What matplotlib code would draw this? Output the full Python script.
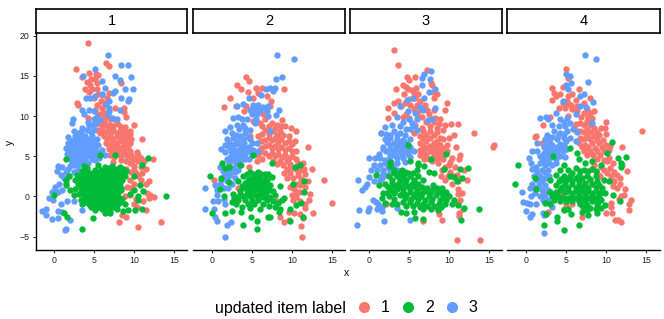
import matplotlib
matplotlib.use("Agg")
import matplotlib.pyplot as plt
from matplotlib.lines import Line2D

plt.rcParams['font.family'] = ['Liberation Sans', 'DejaVu Sans']

COLORS = ['#F8766D', '#00BA38', '#619CFF']
labels = ['1', '2', '3']

p1_red = [(4.2,19.1),(2.7,15.9),(6.5,16.6),(6.9,16.2),(3.5,14.8),(4.3,15.3),(5.2,15.2),(5.5,15.1),(5.1,14.6),(8.3,14.1),(4.1,14.2),(4.5,13.9),(3.8,13.3),(4.3,13.0),(5.3,13.3),(5.5,12.7),(6.8,12.9),(6.6,12.3),(2.8,11.6),(2.9,11.4),(5.3,11.4),(5.8,11.9),(5.1,10.8),(6,11),(7.6,11),(8.7,11),(8.7,10.5),(9,9.9),(4.2,9.8),(5.5,10.2),(6.4,10.4),(5.5,9.1),(6.2,9.4),(7,8.9),(7.8,9.1),(9.9,8.9),(5.3,8.3),(6,8.4),(6.7,8.3),(7.4,8.3),(8.2,8.1),(8.9,8.1),(9.4,8.2),(6.2,7.5),(7,7.6),(7.8,7.5),(8.5,7.4),(9.2,7.5),(11,7.1),(6.5,6.6),(7.2,6.7),(7.9,6.6),(8.7,6.6),(9.4,6.7),(6.8,5.9),(7.5,6),(8.2,5.9),(9,6),(7,5.2),(7.9,5.3),(8.9,5.3),(9.6,5.2),(10.3,5.5),(10.5,5.1),(12.4,4.6),(10.5,4.4),(11.2,4.4),(9.5,4.1),(11.4,3.4),(11,2.9),(10.5,2.5),(11.8,1.9),(11.4,1.6),(9.5,2.1),(9.1,1.2),(8.9,0),(9.5,0.2),(11.6,0.4),(12.5,-0.1),(11.8,-0.2),(11.1,-0.6),(9.9,-0.9),(11.5,-1.7),(10.3,-1.3),(8.5,-2.3),(9,-2.5),(8.1,-3.2),(10.4,-3.8),(13.3,-3.2),(12,0.2),(8.3,4.5),(7.4,4.3),(9,3.4),(10,3.3),
(5.9,8.8),(6.6,8.9),(7.4,8.8),(8.2,8.7),(8.8,8.6),(5.7,7.9),(6.4,8),(7.1,8),(7.9,7.9),(8.6,7.8),(9.4,7.8),(6.6,7.1),(7.4,7.1),(8.2,7),(8.9,7),(9.6,7.2),(6.9,6.3),(7.7,6.3),(8.5,6.2),(9.2,6.3),(7.2,5.6),(7.9,5.6),(8.6,5.6),(9.4,5.7),(7.5,4.9),(8.4,5),(9.2,4.9),(10,4.8),(9,4.4),(9.8,4.5),(10.8,4.8),(10,3.8),(10.8,3.6),(9.6,3),(10.2,2.9),(9.9,1.5),(10.8,2),(9.6,1),(10.2,-0.3),(5.9,11),(6.4,11.6),(5.8,10.3),(6.3,9.9),(5,12.2),(5.9,12.6),(4.7,13.4),(5.3,14.1),(4.6,14.6),(7,9.6),(7.5,9.6)]
p1_green = [(1.5,4.6),(5.7,5.2),(7.6,5.1),(11.7,4.8),(11,3.9),(14,0),(3.5,-4),(4.8,-2.7),(1.6,-2.6),(1.2,-2),(-0.1,0.2),(3.7,3.8),(5.5,3.9),(6.3,3.7),(7.2,3.8),(8.2,3.7),(3.5,3.2),(4.2,3.1),(5.8,3.3),(6.5,3.1),(7.2,3.2),(8,3),(9,3.2),(1.8,2.6),(2.8,2.7),(3.5,2.5),(4.4,2.6),(5.2,2.7),(5.9,2.5),(6.6,2.6),(7.3,2.7),(8,2.5),(8.8,2.6),(10,2.6),(1.5,2),(2.6,2.1),(3.6,1.9),(4.3,2),(5,2.1),(5.7,1.9),(6.4,2),(7,2.1),(7.7,1.9),(8.5,2),(1.4,1.4),(3,1.5),(3.8,1.3),(4.5,1.4),(5.2,1.5),(5.8,1.3),(6.5,1.4),(7.2,1.5),(8,1.3),(10.7,1.4),(2,0.8),(2.6,0.9),(3.6,0.7),(4.2,0.8),(4.9,0.9),(5.6,0.7),(6.2,0.8),(6.9,0.9),(7.6,0.7),(8.4,0.8),(10,0.8),(11.1,0.7),(2.5,0.2),(3.1,0.3),(3.8,0.1),(4.5,0.2),(5.2,0.3),(5.9,0.1),(6.6,0.2),(7.3,0.3),(8,0.1),(9.5,0.3),(10.4,0.1),(3.4,-0.4),(4.1,-0.3),(4.8,-0.5),(5.5,-0.4),(6.2,-0.3),(6.9,-0.5),(7.6,-0.4),(8.5,-0.3),(10.5,-0.4),(3.5,-1),(4.3,-0.9),(5,-1.1),(5.7,-1),(6.4,-0.9),(7.1,-1.1),(8,-1),(8.8,-0.9),(5.1,-1.7),(6,-1.6),(6.4,-1.8),(7,-1.7),(7.9,-1.6),(8.6,-1.8),(9.2,-1.7),(10.1,-1.7),(11,-1.5),(6.4,-2.1),(7,-2),
(4.1,3.5),(5.1,3.3),(6.9,3.5),(7.7,3.4),(8.6,3.4),(3.9,2.9),(4.8,2.9),(5.5,2.9),(6.2,2.9),(6.9,2.9),(7.6,2.9),(8.4,2.9),(3.1,2.3),(4,2.3),(4.7,2.4),(5.4,2.3),(6.1,2.3),(6.9,2.4),(7.6,2.3),(8.3,2.3),(3.3,1.7),(4.1,1.7),(4.8,1.8),(5.5,1.7),(6.2,1.7),(6.8,1.7),(7.5,1.7),(8.2,1.7),(3.3,1.1),(4.1,1.1),(4.8,1.1),(5.5,1.1),(6.2,1.1),(6.8,1.1),(7.6,1.1),(8.3,1.1),(3.3,.5),(3.9,.5),(4.6,.5),(5.2,.5),(5.9,.5),(6.6,.5),(7.2,.5),(8,.5),(3.7,-.1),(4.4,-.1),(5.1,-.1),(5.8,-.1),(6.5,-.1),(7.2,-.1),(8,-.1),(3.9,-.7),(4.6,-.7),(5.3,-.7),(6,-.7),(6.7,-.7),(7.4,-.7),(8.2,-.7),(4.6,-1.3),(5.4,-1.3),(6.1,-1.3),(6.8,-1.3),(7.6,-1.3)]
p1_blue = [(6.7,17.6),(8.3,16.4),(9.2,16.4),(5.1,15.9),(3.6,15),(7.6,15),(9.6,14.9),(8.2,14.5),(6,14.4),(8.8,13.4),(9.8,13.4),(6.4,13.5),(7.6,13.1),(7.4,12.9),(8.3,12.3),(9.3,12.1),(9.2,11.9),(4.5,12.3),(4,12.2),(5.1,12.5),(6,12.7),(6.8,11.9),(6.8,11),(6.7,10.2),(8.2,10.7),(3.5,10.7),(3.7,10.3),(4.3,10.8),(4.9,10.6),(2.3,9.6),(2.2,9.1),(7.9,9.6),(7.2,9.8),(4.9,9.6),(4.7,8.9),(5.3,9.9),(3.5,8.5),(2.4,8.1),(4.1,8.3),(4.9,8.3),(1.7,7.4),(2.6,7.5),(3.3,7.6),(3.9,7.5),(4.7,7.5),(5.3,7.1),(2.2,6.9),(2.8,6.6),(3.5,6.7),(4.1,6.7),(4.8,6.6),(5.5,6.4),(1.4,6),(2,6.1),(2.6,6),(3.3,6),(3.9,6),(4.5,6),(5.1,5.9),(6,5.8),(1.6,5.3),(2.2,5.4),(2.8,5.3),(3.5,5.3),(4.1,5.3),(4.7,5.3),(5.3,5.2),(6.4,5.1),(2,4.6),(2.6,4.6),(3.3,4.6),(3.9,4.6),(4.7,4.6),(5.1,4.5),(0.5,3.8),(1,3.7),(1.9,3.8),(0.3,3.2),(2.4,3.9),(3,3.9),(2.4,3.1),(0.8,2.7),(1.4,3.1),(1.2,2.3),(1.8,2.5),(0.1,1.2),(0,0.7),(0.5,0.6),(1,0.8),(-0.3,0.5),(-0.7,-0.2),(-0.2,-0.5),(1.6,-0.6),(0.8,-0.9),(2.5,-0.6),(-1,-1.5),(-1.5,-1.8),(-1.1,-2.3),(0.5,-1.8),(1,-1.9),(3.5,-1.7),(-0.3,-2.8),(0.5,-2.7),(2,-2.9),(1.3,-4.2),(1.5,-4.1),
(2.5,7),(3.1,7.1),(3.7,7.1),(4.4,7.1),(5,6.9),(1.7,6.6),(2.4,6.4),(3,6.4),(3.6,6.4),(4.2,6.4),(4.9,6.2),(1.7,5.7),(2.4,5.7),(3,5.7),(3.6,5.7),(4.2,5.7),(4.8,5.6),(5.5,5.5),(1.9,5),(2.5,5),(3.2,5),(3.8,5),(4.4,5),(5,4.9),(5.6,4.8),(2.2,4.3),(2.9,4.3),(3.5,4.3),(4.2,4.2),(4.6,8),(4.3,8.7),(5.1,9),(5.7,9.5),(4.2,9.2),(6.5,11.5),(6.9,10.6),(1.7,3.4),(2.9,3.3),(1.5,1.7),(.6,1.5),(3.4,8),(3,7.9)]

p2_red = [(4.3,14.9),(4.7,14.3),(3.2,13.9),(3.6,13.3),(4.5,13),(5.5,13.5),(6.3,13.5),(9,13.3),(2.3,12.3),(1.5,11.1),(3,11.3),(5.8,12.9),(5.2,12.3),(6.9,12.5),(7.4,11.9),(4,10.6),(4.3,11.3),(8.8,9.5),(9.2,8.7),(9.9,8.5),(10.5,8.1),(6.7,9.6),(7.5,9.1),(8.1,8.9),(5.2,9.4),(4.8,7.5),(5.8,7.5),(6.7,8.3),(7.7,8.1),(8.5,8.1),(6.2,6.9),(7.1,7.3),(7.9,7.3),(8.7,7.1),(9.6,6.9),(10.4,6.9),(12,6.1),(6.2,6),(7.1,6.4),(7.9,6.3),(8.7,6.2),(9.6,6),(10.5,5.7),(5.8,5.2),(6.7,5.4),(7.5,5.4),(8.3,5.3),(9.2,5.2),(10,5),(5.6,4.4),(4.6,3.7),(2.2,4.3),(0.3,2),(3.3,1),(7.7,4.4),(8.5,4.4),(9.4,4.4),(10.8,4.2),(11.4,4.2),(10.2,3.5),(11,3.3),(12.5,3.4),(9,2.9),(9.8,2.9),(10.8,2.7),(11.7,2.8),(14,2),(12,1.9),(10.6,1.6),(11.7,1.2),(9.8,1.2),(10.6,.6),(10,.2),(12.3,.3),(12.1,-.4),(11.7,-1),(11,-.6),(10.2,-.4),(8.2,-.6),(15,-.8),(12.7,-2),(11.7,-1.4),(10.3,-2.1),(11,-2.2),(9.6,-1.9),(11.4,-2.7),(8.5,-2.6),(9,-3.2),(9.6,-2.9),(11.1,-3.7),(11.3,-5),
(6.3,8.8),(7.1,8.7),(7.9,8.5),(8.6,8.7),(6.3,7.8),(7.2,7.8),(8.1,7.7),(8.9,7.7),(9.6,7.5),(6.7,7),(7.5,7),(8.3,6.8),(9.1,6.7),(10,6.5),(6.6,6.3),(7.5,6),(8.3,5.9),(9.1,5.8),(10,5.6),(6.2,5.6),(7.1,5),(7.9,5),(8.8,4.9),(9.6,4.8),(10.5,4.7),(6.3,4.7),(8.1,4),(8.9,3.9),(9.8,4),(9.4,3.4),(10.6,3.3),(11.5,3.4),(9.4,2.3),(10.2,2.3),(11.2,2.2),(10.2,1.5),(11,1.4),(10.3,.9),(11,.6),(10.5,-.1),(6,9.1),(6.4,10.2),(5.6,10.7),(6.8,10.9),(7.3,11.2)]
p2_green = [(5.2,5.1),(1.3,4.1),(2.2,3.7),(1.7,3.5),(-.2,2.5),(1.1,2.3),(1,.9),(2.2,1.8),(3.5,3.9),(7.5,4.1),(10.4,3.6),(11,3.9),(11.5,1.9),(11.5,.6),(10.1,1.5),(1.5,.1),(2.5,-.7),(3,-1),(2.5,-1.8),(1.7,-2.1),(0,-2.1),(3.7,-1.9),(3.9,-3.5),(4.9,-2.5),(5.7,-3.1),(5.7,-4.1),(7,-2.5),(7.3,-2.6),(9.8,-3.1),(11.4,-2.5),(9.8,-1.6),(10.5,-1.1),(11.2,-.8),(9,-.2),(8.5,1.3),(4.8,3),(5.8,3.1),(6.7,2.8),(3.9,2.5),(5,2.3),(5.8,2.4),(6.7,2.2),(7.5,2.4),(3.3,1.9),(4.2,1.7),(5,1.6),(5.8,1.6),(6.5,1.7),(7.3,1.4),(4.2,1),(4.9,.9),(5.6,1),(6.4,1),(7.1,.8),(2.7,.3),(3.5,.2),(4.4,.3),(5.2,.3),(6,.4),(6.7,.2),(7.9,.2),(3.3,-.4),(4.2,-.4),(5,-.4),(5.8,-.4),(6.9,-.4),(7.7,-.6),(3.8,-1.3),(4.8,-1.4),(6,-1.5),(7.1,-1.2),(7.9,-1.3),(8.5,-1.5),(8.4,-1.9),
(4.4,2.8),(5.3,2.8),(6.2,2.8),(7,2.8),(4.5,2.1),(5.4,2.1),(6.2,2.1),(6.9,2),(3.8,1.3),(4.6,1.4),(5.3,1.3),(6.1,1.3),(6.8,1.4),(3.5,.7),(4.5,.6),(5.3,.7),(6.1,.7),(6.8,.6),(7.6,.7),(3.2,-.1),(3.9,0),(4.8,0),(5.6,0),(6.4,-.1),(7.3,-.1),(4.5,-.9),(5.3,-.9),(6.4,-.9),(8.3,-.8),(2.8,-.2),(8.8,-.5)]
p2_blue = [(8.2,17.6),(10.3,17.1),(8.8,14.9),(8,14.6),(7.3,13.5),(7.7,13.1),(6.8,13.3),(7.9,13.5),(4.6,12.3),(6.2,12.6),(3.9,11.5),(3.2,11.2),(5.2,11.4),(5.8,11.4),(7,11.3),(8.4,10.8),(8,10.1),(4.8,10.8),(5.4,10.8),(6,10.8),(6.9,10.6),(5,10.2),(5.6,10.2),(2.7,9.8),(3.3,9.9),(3.8,9.6),(4.4,9.6),(7,10),(2.3,8.6),(1.7,8.1),(2.5,7.9),(3.1,8.9),(3.9,8.9),(7.3,8.2),(1.9,7.1),(2.7,7.3),(3.5,7.5),(4.2,7.9),(4.8,8.3),(5.4,9.1),(1.7,6.4),(2.5,6.4),(3.3,6.6),(4,6.6),(4.8,7.1),(5.6,6.6),(1.1,5.9),(2.1,6.1),(2.9,5.8),(3.5,5.9),(4.4,6),(5.2,5.8),(1.7,5.5),(2.5,5.2),(3.3,5.1),(4.2,5.3),(5,5.1),(5.8,5.6),(1.9,4.6),(2.7,4.5),(3.5,4.4),(4.2,4.6),(1,3.7),(1.8,3.1),(2.6,3.5),(3.3,3.3),(1.5,2.5),(2.3,2.7),(2.9,2.3),(1,1.6),(1.9,1.9),(2.5,1.6),(-.8,1.1),(.4,1.4),(.6,.8),(1.5,1),(.7,.2),(1.5,-.3),(.8,-.6),(.1,-.6),(1.7,-1),(-.9,-1.6),(.3,-1.6),(.4,-2.5),(.6,-3),(2.4,-3.2),(1.9,-3.6),(1.7,-5),
(5.5,10.5),(5.2,11),(6.4,11.1),(5.5,9.6),(4.2,8.5),(3,7.7),(3.4,8.4),(3.9,7.1),(3.1,6.9),(4.5,7.4),(2.1,6.7),(2.9,6.5),(3.6,6.1),(4,5.9),(4.7,6.2),(5,6.6),(2.4,5.6),(3,5.4),(3.7,5.4),(4.5,5.6),(5.3,5.4),(2.3,4.9),(3,4.8),(3.8,4.8),(4.6,4.7),(2.2,4),(3,4),(3.7,3.9),(1.4,3.2),(2.2,3.1),(2.9,3),(1.9,2.3),(1.2,2),(1.3,1.2),(2,1.1)]

p3_red = [(3.1,18.2),(3.6,16.3),(7.3,15.7),(4.8,14.9),(5,14.5),(5.8,14.8),(7.8,14.1),(7.9,13.8),(4.3,13.8),(4.7,13.6),(3.4,13.3),(5.4,13.2),(5.9,13.5),(4.4,12.8),(5.6,12.9),(6.2,12.7),(8,13),(8.5,12.7),(8.2,12.2),(9.8,11.6),(9.5,10.7),(3.7,11.9),(3.2,11.6),(2.4,11),(4,11.3),(5.2,11.4),(6,11.4),(7,11.4),(3.2,10.4),(2.4,9.8),(4.3,9.9),(8.1,10.8),(7.5,10.2),(8.3,9.8),(8.9,9.6),(9.5,8.9),(10.3,9),(11.1,9),(1.5,7.9),(13.2,7.9),(10.7,7.6),(15.6,6.4),(15.5,6.2),(10.9,6.2),(6.6,8.5),(7.6,8.7),(8.5,8.5),(9.3,8.3),(10,7.3),(6.4,7.5),(7.2,7.7),(8.1,7.7),(8.9,7.3),(6.4,6.6),(7.2,6.9),(8.1,6.6),(8.9,6.4),(9.8,6.4),(6.4,5.8),(7.2,6),(8.1,5.9),(8.9,5.7),(9.8,5.6),(6.4,5.1),(7.2,5.2),(8.1,5.1),(8.9,5),(11.4,5.2),(11.3,4.6),(10.4,4.8),(7.9,4.4),(8.7,4.1),(10,3.9),(10.8,3.7),(9.1,3.3),(10.2,3.1),(11,2.7),(11.9,3.3),(12.3,2.1),(11.2,1.9),(10.4,1.6),(9.5,2.1),(11.1,.9),(11.7,.4),(11.1,.3),(11.4,-.4),(11.2,-1),(11.8,-1.5),(11.3,-2.1),(11.3,-2.4),(8.7,-1.7),(8.8,-2.2),(9.2,-2.9),(6.8,-3.1),(11,-5.4),(13.9,-5.4),(2.2,-1),
(6.8,8.1),(7.6,8.1),(8.5,8),(6.8,7.3),(7.6,7.3),(8.5,6.9),(9.3,7.2),(6.8,6.3),(7.6,6.3),(8.5,6.2),(9.3,6),(6.8,5.5),(7.6,5.6),(8.5,5.4),(9.3,5.3),(6.9,4.7),(7.5,4.6),(8.5,4.6),(9.3,4.6),(10.2,4.3),(9.5,3.7),(10.5,2.5),(9.9,2.5),(5.8,12.2),(6.4,11.9),(5,12.1),(4.5,11.6),(5.6,10.9),(6.4,10.7),(7.3,10.8),(5,9.8),(6.6,9.9),(7.1,9.2),(8.1,9.2),(8.8,9),(4.9,13.4),(6,10.2),(4.7,10.3),(9,2.6),(5.8,8.9),(5.6,7.9)]
p3_green = [(4.9,6.4),(7.8,4.7),(9.7,5.3),(2.6,4.3),(2.6,3.8),(5.2,4.4),(6.1,4.2),(6.2,3.9),(6.9,3.8),(9.4,3.4),(11.4,3.4),(12.4,3.5),(7.5,3.1),(8.1,2.9),(11.6,2.3),(10.2,2.6),(10.6,2.4),(11,1.9),(1.3,1.4),(.9,2.7),(3.1,3.3),(4.1,3.3),(4.5,3),(6,3.3),(2.5,2.5),(3.5,2.5),(4.3,2.5),(5.1,2.5),(6.2,2.5),(2,1.6),(2.9,1.7),(3.7,1.6),(4.5,1.7),(5.4,1.6),(6.2,1.6),(8.5,1.1),(9.1,1),(1.8,.4),(2.7,.8),(3.5,.9),(4.3,.9),(5.2,.9),(6,.8),(7,.7),(7.9,.8),(9.7,.6),(1.7,-.2),(2.5,0),(3.9,.2),(4.7,.2),(5.6,.1),(6.5,0),(7.5,0),(8.4,.2),(9.3,0),(10,0),(10.6,-.4),(2,-.8),(2.9,-1),(4.3,-.7),(5.2,-.7),(6,-.8),(6.8,-.9),(7.8,-.7),(8.8,-.9),(9.5,-.9),(10.4,-1),(11.2,-1.1),(11.9,-1.4),(13.8,-1.5),(4,-1.9),(4.7,-2.1),(5.6,-1.9),(6.8,-1.5),(7.8,-1.5),(8.6,-1.7),(5.8,-2.7),(6.8,-2.8),(11.5,-2.9),
(3.1,2.9),(3.9,2.9),(4.9,2.9),(5.5,2.9),(2.9,2.1),(3.9,2.1),(4.7,2.1),(5.6,2.1),(6.8,2.1),(2.4,1.2),(3.2,1.3),(4,1.3),(4.9,1.3),(5.7,1.3),(6.6,1.2),(7.3,1.1),(8,1.4),(2.3,.4),(3.1,.4),(4.3,.5),(5.1,.5),(5.9,.4),(6.7,.4),(7.6,.4),(8.7,.6),(9.2,.4),(3.2,-.3),(4.5,-.2),(5.3,-.3),(6.1,-.3),(7,-.4),(7.9,-.3),(8.9,-.4),(9.7,-.4),(3.5,-.9),(4.7,-1.2),(5.5,-1.2),(6.4,-1.3),(7.3,-1.2),(8.2,-1.2),(9,-1.3)]
p3_blue = [(7.8,15.6),(6.9,15.2),(6.7,14.7),(7.7,14.6),(6.6,13.9),(8.3,13.3),(7.5,13),(6.9,12.3),(5.5,12.3),(4.8,12),(3.9,11.3),(8.3,11),(6.4,11.1),(4.9,10.6),(5.8,10.4),(6.8,10.8),(3.5,9.9),(5,9.6),(6,9.6),(7.4,9.5),(7.9,9.6),(2,8.6),(2.9,8.9),(3.9,8.7),(5.2,8.4),(6,8.3),(1.5,7.9),(2.2,7.8),(3.1,8.1),(3.9,7.9),(4.5,7.7),(2,7.1),(2.7,7.3),(3.5,7.1),(4.3,7),(5.1,7.1),(1.8,6.2),(2.7,6.4),(3.5,6.4),(4.3,6.2),(5.1,6.1),(2.2,5.6),(3.1,5.6),(3.9,5.5),(4.7,5.6),(5.6,5.6),(1.3,5.3),(0,4.8),(.8,4.8),(1.4,4.8),(2.7,4.9),(3.5,4.8),(4.3,4.8),(5.1,4.9),(.6,3.9),(1.4,3.9),(2,4.1),(.3,3.3),(1,3.3),(1.8,3.3),(2.7,3.3),(3.5,3.3),(0,2.4),(1.6,2.7),(2.2,2.7),(.7,1.9),(1.4,2.1),(-1.3,2.1),(-.2,1.6),(-.5,1.2),(-.9,.8),(3.2,.5),(.5,-.4),(.9,-.7),(1.2,-1),(1,-1.6),(1.6,-1.3),(1.7,-1.8),(0,-1.4),(-.1,-1.8),(-1.2,-1.7),(3.5,-1.4),(1.9,-3.1),(-1.5,-3.6),(5.1,-2.9),
(2.6,7.7),(3.5,7.7),(2.3,6.8),(3.1,6.7),(3.9,6.6),(4.7,6.7),(1.8,5.9),(2.6,5.9),(3.4,6),(4.2,5.9),(5,5.8),(2.6,5.2),(3.3,5.1),(4.1,5.2),(4.9,5.3),(2,4.5),(2.8,4.3),(3.5,4.2),(4.5,4.3),(2.4,3.7),(3,3.8),(1.7,2.3),(5.4,9.1),(4.6,8.4),(4.3,9.2),(5.7,8.8)]

p4_red = [(5,15.9),(5.2,14.7),(4.6,13.6),(3.2,13.5),(3.5,12.9),(3.3,12),(3.8,12.5),(4.3,12.7),(6.6,13.3),(8,12.3),(5.8,12.7),(5.3,12.5),(5.1,11.9),(6.2,12),(7.2,11.6),(8.5,10.6),(4.1,11),(4.9,11),(5.8,10.9),(3,9.9),(2.1,8.9),(5.3,10),(7.2,10.4),(8,10.4),(10,9.3),(9.9,8.5),(9.4,8.5),(10,7.8),(14.5,8.2),(1.3,7.5),(1.1,7.4),(2.9,6.9),(2,6.7),(6,8.5),(6.8,9.1),(7.6,9.4),(8.5,8.5),(6.8,8.1),(7.6,8.3),(9.1,7.7),(6.8,7.3),(7.6,7.5),(8.5,7.5),(6.6,6.6),(7.4,6.4),(8.2,6.6),(9.1,6.6),(10,6.4),(10.5,6.3),(7.2,5.6),(8,5.7),(8.9,5.6),(12,6.1),(9.7,5.6),(10.3,4.8),(10.1,4.4),(10.8,4.1),(8.5,3.9),(9.3,3.7),(11,3.1),(12,3.9),(12.6,3.2),(8.9,2.9),(10.1,2.9),(11.7,2.3),(11,1.9),(11.7,1.5),(8,2.1),(12.4,.9),(12.2,.2),(11.9,0),(13.1,-.5),(11.6,-.3),(10.6,-.8),(10.6,-1.3),(12.8,-.9),(12.8,-1.7),(10,-2.1),(10.7,-2.1),(11.1,-2.9),(11.5,-2.9),(11.8,-3.2),(7,-2.6),(4.2,.3),(5,-1),(5.8,-1),(4.8,-1.5),(2.8,-1.9),(2.2,.5),
(6.3,9),(7.2,8.9),(8,8.9),(6.4,8.2),(7.2,8),(8.1,8),(8.9,8),(7.2,7.1),(8,7.1),(8.9,7),(9.6,7),(7,6.1),(7.8,6.1),(8.6,6),(9.5,6.1),(10.3,5.8),(7.6,5.2),(8.4,5.2),(9.2,5.1),(8.9,4.6),(9.7,4.5),(9.7,3.3),(10.5,3.5),(10.6,2.5),(11.4,2.7),(5.6,11.4),(6.4,11.3),(5.2,11.5),(4.6,11.6),(6.4,10.6),(7.6,10.9),(6.9,9.9),(7.7,9.9),(8.2,9.7),(9.2,2.6),(11.4,1),(10.8,1.3)]
p4_green = [(10.7,6.8),(5.5,6),(11.5,4.8),(12.5,4.9),(11.8,3.7),(11.9,4.2),(-1,3.9),(-1.3,1.6),(1.3,.9),(1.2,2.3),(3.4,5),(6.4,5.4),(10.1,5.4),(6.6,4.6),(7.4,4.1),(4.7,3.9),(8.2,4.4),(9.3,3.9),(4.3,3.3),(5.3,3.3),(6.2,3.5),(7.2,3.3),(8.2,3.4),(3.7,2.7),(4.7,2.6),(5.5,2.6),(6.6,2.7),(7.6,2.6),(8.7,2.5),(3,2.1),(4.1,1.9),(4.9,1.9),(5.8,1.9),(6.6,1.9),(7.4,1.7),(9.7,2.1),(10.3,1.9),(4.5,1.2),(5.3,1.1),(6.2,1.1),(7,1.1),(7.8,1.1),(8.7,1.2),(9.5,1),(3,.6),(3.7,.6),(4.9,.5),(5.8,.4),(6.6,.5),(7.4,.4),(8.2,.4),(9.1,.4),(9.9,.4),(10.8,.2),(3.3,0),(4.1,-.1),(5.3,-.2),(6.2,-.2),(7,-.2),(7.8,-.2),(8.7,-.2),(9.3,-.4),(2.4,-.8),(4.7,-1.7),(5.3,-1.5),(6.8,-.9),(7.6,-1.1),(8.9,-1.1),(9.8,-1.1),(11.7,-.6),(2.5,-2.2),(5.6,-2.2),(7,-1.9),(7.7,-2.3),(8.9,-2),(3.9,-2.6),(3.9,-3.1),(2.2,-3.6),(4.8,-4.2),(6.6,-3.5),
(5.8,2.9),(6.8,3.2),(7.7,3.2),(8.7,3.2),(4.4,2.2),(5.2,2.2),(6.2,2.3),(7,2.3),(8,2.2),(8.9,1.9),(3.7,1.4),(4.9,1.5),(5.7,1.5),(6.6,1.5),(7.4,1.4),(8.2,1.5),(9.1,1.4),(4.2,.8),(5.3,.7),(6.2,.7),(7,.8),(7.8,.7),(8.7,.7),(9.5,.5),(3.6,.3),(4.6,-.1),(5.7,0),(6.6,.1),(7.4,.1),(8.2,.1),(9.1,.1),(5,-.6),(5.7,-.6),(6.6,-.6),(7.4,-.6),(8.3,-.6),(9,-.7),(3.5,-.5),(4.3,-.6),(7.1,-1.3),(8,-1.4),(8.7,-1.5),(3,-1),(9.3,-1.4),(7.6,-1.7)]
p4_blue = [(7.4,17.6),(8.8,17.1),(5,15.2),(5.5,15),(5.6,14.1),(7.7,14.2),(5,13.9),(5.3,13.4),(7.2,12.7),(6.7,12.5),(4.6,11.9),(8.4,11.7),(6.8,11.2),(7.5,11.1),(3.8,10.4),(6.3,10.2),(1.7,9.8),(2.5,9.9),(2.8,9.6),(4.3,9.6),(5.1,9.8),(8.2,9.1),(3.3,8.9),(4.1,8.7),(4.9,8.8),(2.6,7.7),(3.5,8.1),(4.3,7.9),(5.1,8.1),(1.4,6.7),(2.4,7.1),(3,6.7),(3.9,7.1),(4.7,7.3),(5.5,7.3),(6.2,6.9),(2.2,6.2),(3,6),(3.9,6.2),(4.7,6.4),(.8,5.7),(1.4,5.6),(2.2,5.4),(3,5.3),(3.9,5.5),(4.6,5.6),(.4,4.8),(2,4.8),(2.8,4.6),(3.7,4.6),(.7,4.1),(1.7,4.1),(2.4,3.9),(3.3,3.9),(.8,3.4),(2,3.3),(2.8,3.3),(1,2.5),(1.8,2.5),(2.4,2.3),(.8,1.6),(1.6,1.4),(2.4,1.4),(.5,1),(2,.8),(2.8,.8),(-.5,.6),(.6,0),(1.8,.1),(2.4,.2),(-.3,-.7),(.1,-.8),(.5,-.9),(1.3,-.9),(2.1,-.5),(2.8,-.4),(0,-1.8),(.8,-2.2),(.5,-2.6),(2.1,-2.1),(2.3,-2.3),(2.2,-4.6),(3.3,-1.3),
(3.3,7.4),(4,7.5),(4.7,7.8),(2.9,7.2),(2.4,6.4),(3.3,6.4),(4.3,6.5),(5,6.9),(2.6,5.7),(3.4,5.7),(4.3,6),(5.1,5.9),(1.8,5),(2.5,5.1),(3.3,4.9),(4.2,5),(4.9,4.9),(2.1,4.4),(2.9,4.1),(3.7,4.1),(1.3,3.7),(2.4,3),(1.4,3),(1.4,2),(2,1.9),(2.9,2.5),(4.7,9.3),(5.5,9.1),(5.9,8.4),(6.4,8),(1.2,1.1),(1.2,.4)]

panels = [('1', p1_red, p1_green, p1_blue),
          ('2', p2_red, p2_green, p2_blue),
          ('3', p3_red, p3_green, p3_blue),
          ('4', p4_red, p4_green, p4_blue)]

W, H = 664, 319
fig = plt.figure(figsize=(W/100, H/100), dpi=100)
boxes = [(35.5, 187.5), (193, 345), (350, 502), (507, 659.5)]
top, bottom = 34, 250
xticks = [0, 5, 10, 15]
yticks = [-5, 0, 5, 10, 15, 20]

for i, ((name, red, green, blue), (l, r)) in enumerate(zip(panels, boxes)):
    ax = fig.add_axes([l/W, 1-bottom/H, (r-l)/W, (bottom-top)/H])
    for pts, c in ((red, COLORS[0]), (blue, COLORS[2]), (green, COLORS[1])):
        ax.scatter([p[0] for p in pts], [p[1] for p in pts], s=21, color=c,
                   linewidths=0, zorder=3, clip_on=False)
    ax.set_xlim(-2.35, 16.65)
    ax.set_ylim(-6.66, 20.2)
    ax.set_xticks(xticks)
    ax.tick_params(axis='x', labelsize=6.3, length=2.5, width=0.7, pad=2, colors='#222222')
    for s in ('top', 'right'):
        ax.spines[s].set_visible(False)
    ax.spines['bottom'].set_linewidth(1.0)
    if i == 0:
        ax.set_yticks(yticks)
        ax.tick_params(axis='y', labelsize=6.3, length=2.5, width=0.7, pad=2, colors='#222222')
        ax.spines['left'].set_linewidth(1.0)
        ax.set_ylabel('y', fontsize=7.5, labelpad=3)
    else:
        ax.set_yticks([])
        ax.spines['left'].set_visible(False)
    # facet strip
    sa = fig.add_axes([l/W, 1-33/H, (r-l)/W, 24/H])
    sa.set_xticks([]); sa.set_yticks([])
    for s in sa.spines.values():
        s.set_linewidth(1.2)
    sa.text(0.5, 0.5, name, transform=sa.transAxes, ha='center', va='center', fontsize=10.5)

fig.text(346.5/W, 1-273/H, 'x', ha='center', va='center', fontsize=7.5)
fig.text(215/W, 1-308/H, 'updated item label', ha='left', va='center', fontsize=11.5)
handles = [Line2D([], [], linestyle='none', marker='o', markersize=8, markeredgewidth=0,
                  color=c) for c in COLORS]
fig.legend(handles, labels, ncol=3, frameon=False, fontsize=11.5,
           loc='center left', bbox_to_anchor=(352/W, 1-308/H), borderpad=0, borderaxespad=0,
           handletextpad=0.3, columnspacing=0.4, handlelength=1.5)
fig.savefig('out.png', dpi=100)
